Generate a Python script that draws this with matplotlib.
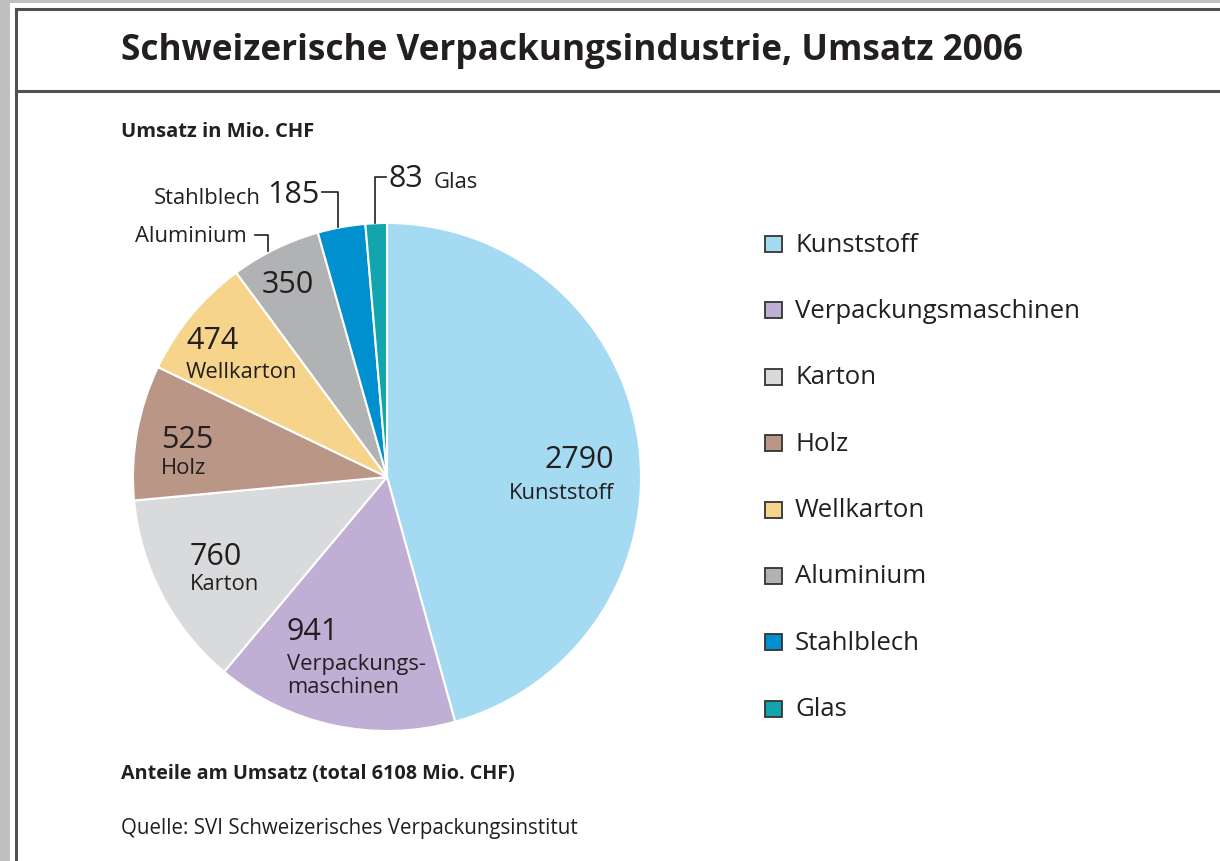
import matplotlib
matplotlib.use("Agg")
import matplotlib.pyplot as plt
from matplotlib.patches import Rectangle
from matplotlib.lines import Line2D

W, H = 1220, 862

categories = ["Kunststoff", "Verpackungsmaschinen", "Karton", "Holz",
              "Wellkarton", "Aluminium", "Stahlblech", "Glas"]
values = [2790, 941, 760, 525, 474, 350, 185, 83]
colors = ["#a5daf3", "#c1aed4", "#d9dadc", "#b99686",
          "#f6d48b", "#b1b2b4", "#0090d0", "#12a5ae"]

TXT = "#231f20"
plt.rcParams["font.family"] = ["Open Sans", "DejaVu Sans"]


def fx(px):
    return px / W


def fy(py):
    return 1 - py / H


fig = plt.figure(figsize=(W / 100, H / 100), dpi=100, facecolor="#c0c0c0")

# white page with frame lines
fig.patches.append(Rectangle((fx(10), 0), 1, fy(4), transform=fig.transFigure,
                             facecolor="white", edgecolor="none", zorder=-5))
for xs, ys in [([16, 16], [10, H]), ([16, W], [10, 10]), ([16, W], [92, 92])]:
    fig.add_artist(Line2D([fx(x) for x in xs], [fy(y) for y in ys],
                          color="#505050", lw=2.2, transform=fig.transFigure))

fig.text(fx(121), fy(51), "Schweizerische Verpackungsindustrie, Umsatz 2006",
         fontsize=25.3, fontweight="bold", color=TXT, va="center")
fig.text(fx(121), fy(132), "Umsatz in Mio. CHF", fontsize=14.5,
         fontweight="bold", color=TXT, va="center")
fig.text(fx(121), fy(774), "Anteile am Umsatz (total 6108 Mio. CHF)", fontsize=14.2,
         fontweight="bold", color=TXT, va="center")
fig.text(fx(121), fy(829), "Quelle: SVI Schweizerisches Verpackungsinstitut",
         fontsize=14.8, color=TXT, va="center")

# pie
cx, cy, r = 387, 478, 254
ax = fig.add_axes([fx(cx - r), fy(cy + r), 2 * r / W, 2 * r / H])
ax.pie(values, colors=colors, startangle=90, counterclock=False, radius=1,
       wedgeprops=dict(edgecolor="white", linewidth=1.5))
ax.set_xlim(-1, 1)
ax.set_ylim(-1, 1)
ax.set_axis_off()

NUM, LAB = 22, 15.8

# in-slice labels: (value text, name text, x, y_value, y_name, ha)
inside = [
    ("2790", "Kunststoff", 614, 460, 494, "right"),
    ("941", "Verpackungs-\nmaschinen", 287, 632, 676, "left"),
    ("760", "Karton", 190, 557, 584, "left"),
    ("525", "Holz", 161, 440, 469, "left"),
    ("474", "Wellkarton", 186, 341, 373, "left"),
]
for val, name, x, yv, yn, ha in inside:
    fig.text(fx(x), fy(yv), val, fontsize=NUM, color=TXT, ha=ha, va="center")
    fig.text(fx(x), fy(yn), name, fontsize=LAB, color=TXT, ha=ha, va="center",
             linespacing=1.15)
fig.text(fx(262), fy(285), "350", fontsize=NUM, color=TXT, ha="left", va="center")

# outside labels with bracket leaders
fig.text(fx(247), fy(237), "Aluminium", fontsize=LAB, color=TXT, ha="right", va="center")
fig.text(fx(261), fy(198), "Stahlblech", fontsize=LAB, color=TXT, ha="right", va="center")
fig.text(fx(320), fy(195), "185", fontsize=NUM, color=TXT, ha="right", va="center")
fig.text(fx(389), fy(179), "83", fontsize=NUM, color=TXT, ha="left", va="center")
fig.text(fx(434), fy(182), "Glas", fontsize=LAB, color=TXT, ha="left", va="center")
for xs, ys in [([255, 268, 268], [236, 236, 252]),
               ([322, 338, 338], [193, 193, 228]),
               ([386, 375, 375], [178, 178, 224])]:
    fig.add_artist(Line2D([fx(x) for x in xs], [fy(y) for y in ys],
                          color=TXT, lw=1.2, transform=fig.transFigure))

# legend
for i, (name, col) in enumerate(zip(categories, colors)):
    y = 245 + i * 66.4
    fig.patches.append(Rectangle((fx(765), fy(y + 8)), 17 / W, 16 / H,
                                 transform=fig.transFigure, facecolor=col,
                                 edgecolor="#333333", lw=1.3))
    fig.text(fx(795), fy(y), name, fontsize=18.5, color=TXT, va="center")

fig.savefig("out.png", dpi=100, facecolor=fig.get_facecolor())
